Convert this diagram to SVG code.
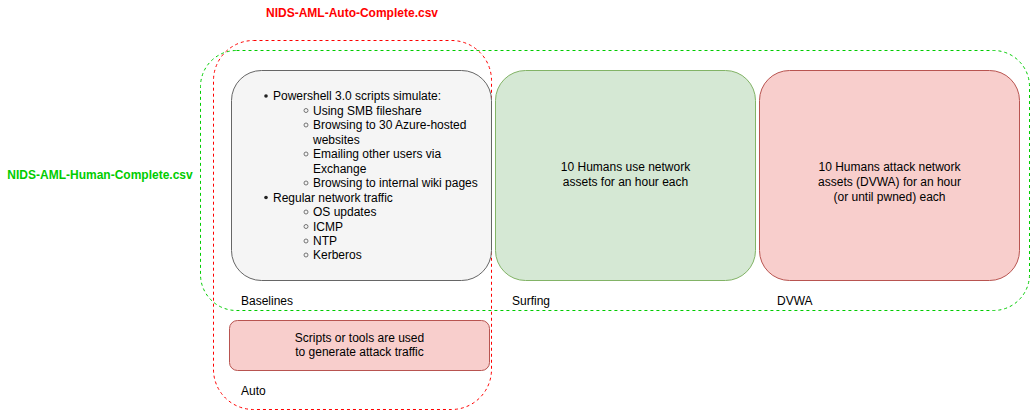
<svg xmlns="http://www.w3.org/2000/svg" width="1031" height="411" viewBox="0 0 1031 411">
<style>
text{font-family:"Liberation Sans",Arial,Helvetica,sans-serif;font-size:12px;fill:#000}
.c{text-anchor:middle}
.title{font-weight:bold;font-size:12px}
.dash{fill:none;stroke-dasharray:3 3;stroke-width:1}
.b{fill:#222}
.h{fill:none;stroke:#666;stroke-width:0.9}
</style>
<rect width="1031" height="411" fill="#fff"/>
<g id="human-group">
<rect class="dash" x="200.5" y="50.5" width="829" height="260" rx="36" ry="36" stroke="#00CC00"/>
<text class="title" x="100" y="179" text-anchor="middle" style="fill:#00CC00">NIDS-AML-Human-Complete.csv</text>
</g>
<g id="auto-group">
<rect class="dash" x="213.5" y="40.5" width="278" height="369" rx="40" ry="40" stroke="#FF0000"/>
<text class="title c" x="352" y="17" style="fill:#FF0000">NIDS-AML-Auto-Complete.csv</text>
</g>
<g id="baselines">
<rect x="231.5" y="70.5" width="260" height="210" rx="30" ry="30" fill="#f5f5f5" stroke="#666666"/>
<circle class="b" cx="266" cy="96" r="1.8"/>
<text x="273" y="100">Powershell 3.0 scripts simulate:</text>
<circle class="h" cx="306" cy="110.5" r="2"/>
<text x="313" y="114.5">Using SMB fileshare</text>
<circle class="h" cx="306" cy="125" r="2"/>
<text x="313" y="129">Browsing to 30 Azure-hosted</text>
<text x="313" y="143.5">websites</text>
<circle class="h" cx="306" cy="154" r="2"/>
<text x="313" y="158">Emailing other users via</text>
<text x="313" y="172.5">Exchange</text>
<circle class="h" cx="306" cy="183" r="2"/>
<text x="313" y="187">Browsing to internal wiki pages</text>
<circle class="b" cx="266" cy="197.5" r="1.8"/>
<text x="273" y="201.5">Regular network traffic</text>
<circle class="h" cx="306" cy="212" r="2"/>
<text x="313" y="216">OS updates</text>
<circle class="h" cx="306" cy="226.5" r="2"/>
<text x="313" y="230.5">ICMP</text>
<circle class="h" cx="306" cy="241" r="2"/>
<text x="313" y="245">NTP</text>
<circle class="h" cx="306" cy="255" r="2"/>
<text x="313" y="259">Kerberos</text>
<text x="241" y="305">Baselines</text>
</g>
<g id="surfing">
<rect x="495.5" y="70.5" width="260" height="210" rx="30" ry="30" fill="#d5e8d4" stroke="#82b366"/>
<text class="c" x="625.5" y="171">10 Humans use network</text>
<text class="c" x="625.5" y="186">assets for an hour each</text>
<text x="512" y="305">Surfing</text>
</g>
<g id="dvwa">
<rect x="759.5" y="70.5" width="260" height="210" rx="30" ry="30" fill="#f8cecc" stroke="#b85450"/>
<text class="c" x="889.5" y="171">10 Humans attack network</text>
<text class="c" x="889.5" y="186">assets (DVWA) for an hour</text>
<text class="c" x="889.5" y="201">(or until pwned) each</text>
<text x="777" y="305">DVWA</text>
</g>
<g id="auto">
<rect x="229.5" y="320.5" width="260" height="50" rx="8" ry="8" fill="#f8cecc" stroke="#b85450"/>
<text class="c" x="359.5" y="342">Scripts or tools are used</text>
<text class="c" x="359.5" y="356">to generate attack traffic</text>
<text x="241" y="395">Auto</text>
</g>
<g id="connectors"></g>
</svg>
